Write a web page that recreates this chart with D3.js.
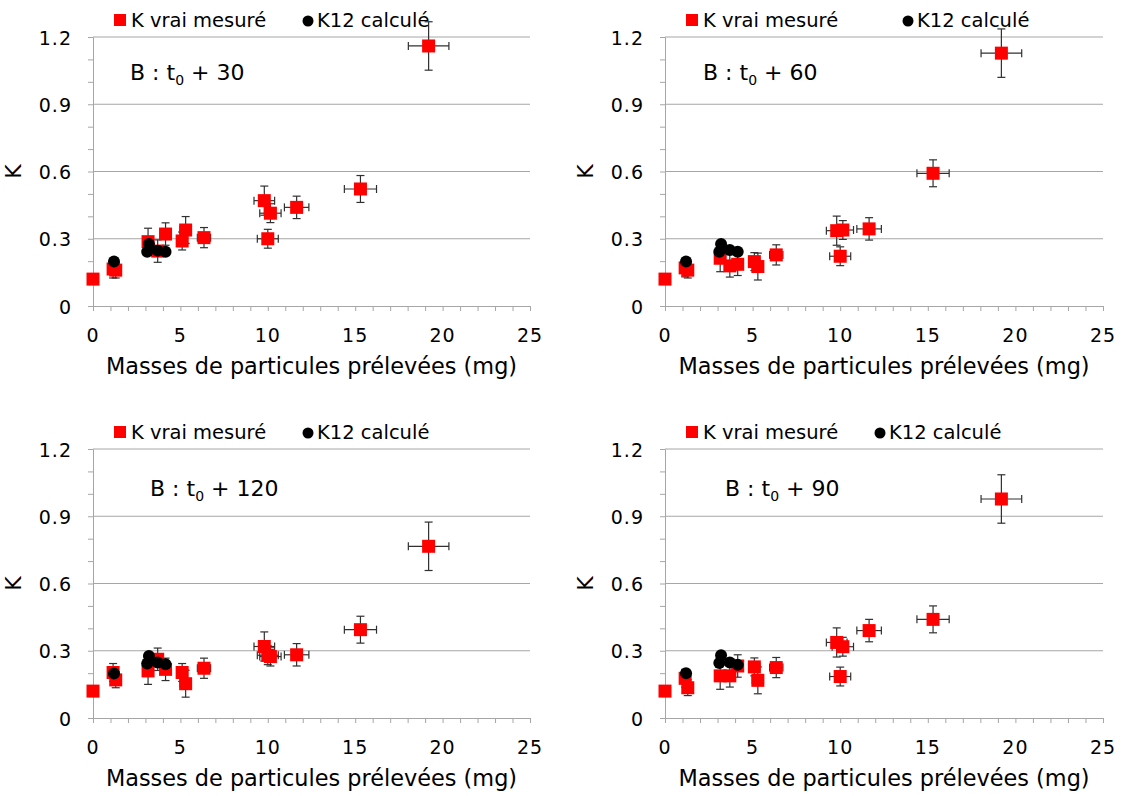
<!DOCTYPE html>
<html><head><meta charset="utf-8">
<script src="https://cdn.jsdelivr.net/npm/d3@7"></script>
<style>body{margin:0;background:#fff}svg{display:block}text{font-family:"DejaVu Sans",sans-serif;fill:#000}</style>
</head><body><svg id="c" width="1121" height="796"></svg>
<script>
// Data
const masses   = [0, 1.15, 1.3, 3.15, 3.7, 4.15, 5.1, 5.3, 6.35, 9.8, 10.0, 10.15, 11.65, 15.3, 19.2];
const xErrors  = [0, 0.07, 0.08, 0.19, 0.22, 0.25, 0.31, 0.32, 0.38, 0.59, 0.6, 0.61, 0.7, 0.92, 1.16];
const yErrors  = [0, 0.04, 0.035, 0.06, 0.05, 0.05, 0.04, 0.06, 0.045, 0.065, 0.042, 0.042, 0.05, 0.06, 0.108];
const kVrai30  = [0.12, 0.165, 0.16, 0.287, 0.245, 0.321, 0.29, 0.339, 0.305, 0.47, 0.30, 0.414, 0.44, 0.522, 1.16];
const kVrai60  = [0.12, 0.17, 0.16, 0.213, 0.179, 0.186, 0.198, 0.176, 0.228, 0.336, 0.222, 0.339, 0.344, 0.592, 1.128];
const kVrai120 = [0.12, 0.203, 0.17, 0.21, 0.262, 0.217, 0.203, 0.153, 0.222, 0.319, 0.28, 0.274, 0.282, 0.394, 0.766];
const kVrai90  = [0.12, 0.177, 0.135, 0.188, 0.188, 0.232, 0.228, 0.168, 0.225, 0.337, 0.185, 0.318, 0.39, 0.44, 0.977];
const calcMasses = [1.2, 3.1, 3.2, 3.7, 4.15];
const k12_30  = [0.198, 0.242, 0.277, 0.247, 0.242];
const k12_60  = [0.198, 0.242, 0.277, 0.25, 0.242];
const k12_120 = [0.198, 0.243, 0.277, 0.248, 0.24];
const k12_90  = [0.2, 0.245, 0.28, 0.248, 0.237];
const yTicks = [0, 0.3, 0.6, 0.9, 1.2];
const xTicks = [0, 5, 10, 15, 20, 25];
const legendLabels = ["K vrai mesuré", "K12 calculé"];
const xTitle = "Masses de particules prélevées (mg)";
const yTitle = "K";
const panelTimes = ["30", "60", "120", "90"];

const panels = [
  {vrai:kVrai30, calc:k12_30, t:panelTimes[0], x0:93, x1:530, yT:37, yB:306, leg:[120,308], ann:[130,80]},
  {vrai:kVrai60, calc:k12_60, t:panelTimes[1], x0:665, x1:1103, yT:37, yB:306, leg:[692,908], ann:[703,80]},
  {vrai:kVrai120, calc:k12_120, t:panelTimes[2], x0:93, x1:530, yT:449, yB:718, leg:[120,308], ann:[150,496]},
  {vrai:kVrai90, calc:k12_90, t:panelTimes[3], x0:665, x1:1103, yT:449, yB:718, leg:[692,880], ann:[725,496]}
];

const svg = d3.select("#c");
const grid = "#a6a6a6";

panels.forEach(p => {
  const g = svg.append("g");
  const x = d3.scaleLinear().domain([0,25]).range([p.x0,p.x1]);
  const y = d3.scaleLinear().domain([0,1.2]).range([p.yB,p.yT]);
  g.selectAll(".gl").data(yTicks.slice(1)).join("line")
    .attr("x1",p.x0).attr("x2",p.x1).attr("y1",d=>y(d)).attr("y2",d=>y(d))
    .attr("stroke",grid).attr("stroke-width",1);
  const ya = g.append("g").attr("transform",`translate(${p.x0},0)`)
    .call(d3.axisLeft(y).tickValues(d3.range(0,13).map(i=>i/10)).tickSize(5).tickFormat(""));
  ya.select(".domain").attr("stroke",grid);
  ya.selectAll(".tick line").attr("stroke",grid);
  g.selectAll(".yl").data(yTicks).join("text")
    .attr("x",p.x0-21).attr("y",d=>y(d)+7.5).attr("text-anchor","end")
    .attr("font-size",19).attr("letter-spacing",1).text(d=>d===0?"0":d3.format(".1f")(d));
  const xa = g.append("g").attr("transform",`translate(0,${p.yB})`)
    .call(d3.axisBottom(x).tickValues(d3.range(0,26)).tickSize(5).tickFormat(""));
  xa.select(".domain").attr("stroke",grid);
  xa.selectAll(".tick line").attr("stroke",grid);
  g.selectAll(".xl").data(xTicks).join("text")
    .attr("x",d=>x(d)).attr("y",p.yB+36).attr("text-anchor","middle")
    .attr("font-size",19).attr("letter-spacing",1).text(d=>d);
  g.append("text").attr("x",(p.x0+p.x1)/2).attr("y",p.yB+68).attr("text-anchor","middle")
    .attr("font-size",22.4).text(xTitle);
  g.append("text").attr("transform",`translate(${p.x0-72},${(p.yT+p.yB)/2}) rotate(-90)`)
    .attr("text-anchor","middle").attr("font-size",22).text(yTitle);
  const an = g.append("text").attr("x",p.ann[0]).attr("y",p.ann[1]).attr("font-size",22).attr("xml:space","preserve");
  an.append("tspan").text("B : t");
  an.append("tspan").attr("font-size",14).attr("dy",5).text("0");
  an.append("tspan").attr("dy",-5).text(" + " + p.t);
  const ly = p.yT - 17;
  g.append("rect").attr("x",p.leg[0]-6).attr("y",ly-6).attr("width",12).attr("height",12).attr("fill","#ff0000");
  g.append("text").attr("x",p.leg[0]+11).attr("y",ly+7).attr("font-size",19.5).text(legendLabels[0]);
  g.append("circle").attr("cx",p.leg[1]).attr("cy",ly+1).attr("r",5.5).attr("fill","#000");
  g.append("text").attr("x",p.leg[1]+9).attr("y",ly+7).attr("font-size",19.5).text(legendLabels[1]);
  const pts = masses.map((m,i)=>({m, k:p.vrai[i], ex:xErrors[i], ey:yErrors[i]}));
  const eb = g.append("g").attr("stroke","#303030").attr("stroke-width",1.2);
  pts.filter(d=>d.ex>0||d.ey>0).forEach(d=>{
    const cx=x(d.m), cy=y(d.k);
    eb.append("line").attr("x1",x(d.m-d.ex)).attr("x2",x(d.m+d.ex)).attr("y1",cy).attr("y2",cy);
    eb.append("line").attr("x1",x(d.m-d.ex)).attr("x2",x(d.m-d.ex)).attr("y1",cy-4).attr("y2",cy+4);
    eb.append("line").attr("x1",x(d.m+d.ex)).attr("x2",x(d.m+d.ex)).attr("y1",cy-4).attr("y2",cy+4);
    eb.append("line").attr("x1",cx).attr("x2",cx).attr("y1",y(d.k-d.ey)).attr("y2",y(d.k+d.ey));
    eb.append("line").attr("x1",cx-4).attr("x2",cx+4).attr("y1",y(d.k-d.ey)).attr("y2",y(d.k-d.ey));
    eb.append("line").attr("x1",cx-4).attr("x2",cx+4).attr("y1",y(d.k+d.ey)).attr("y2",y(d.k+d.ey));
  });
  g.selectAll(".sq").data(pts).join("rect")
    .attr("x",d=>x(d.m)-6.5).attr("y",d=>y(d.k)-6.5).attr("width",13).attr("height",13)
    .attr("fill","#ff0000");
  g.selectAll(".ci").data(calcMasses.map((m,i)=>({m,k:p.calc[i]}))).join("circle")
    .attr("cx",d=>x(d.m)).attr("cy",d=>y(d.k)).attr("r",6).attr("fill","#000");
});
</script></body></html>
